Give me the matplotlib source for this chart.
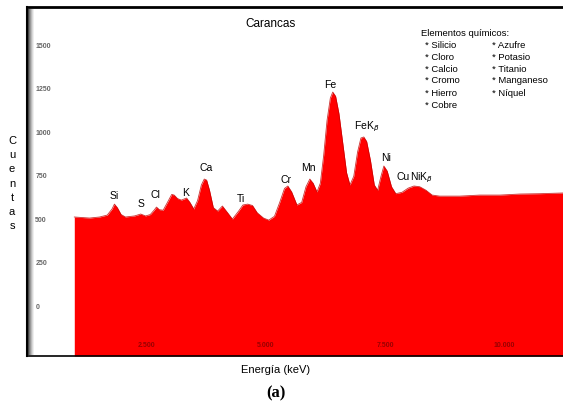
import matplotlib
matplotlib.use("Agg")
import matplotlib.pyplot as plt
from matplotlib.patches import Rectangle

plt.rcParams['font.family'] = ['Liberation Sans', 'DejaVu Sans']

# EDX spectrum of the Carancas sample (energy in keV, counts)
energy = [0.99, 1.31, 1.52, 1.68, 1.78, 1.83, 1.89, 1.97, 2.06, 2.25,
          2.38, 2.48, 2.58, 2.66, 2.71, 2.77, 2.85, 2.94, 3.03, 3.08,
          3.15, 3.23, 3.34, 3.41, 3.49, 3.57, 3.65, 3.71, 3.76, 3.82,
          3.90, 3.99, 4.09, 4.20, 4.30, 4.43, 4.52, 4.62, 4.72, 4.82,
          4.95, 5.06, 5.18, 5.29, 5.39, 5.46, 5.54, 5.65, 5.75, 5.84,
          5.92, 5.99, 6.07, 6.14, 6.21, 6.28, 6.35, 6.40, 6.46, 6.53,
          6.61, 6.69, 6.76, 6.84, 6.92, 6.99, 7.05, 7.11, 7.19, 7.27,
          7.34, 7.41, 7.47, 7.54, 7.63, 7.72, 7.85, 7.98, 8.10, 8.22,
          8.35, 8.48, 8.64, 9.06, 9.48, 9.90, 10.32, 10.74, 11.22]
counts = [506, 500, 506, 517, 552, 580, 560, 520, 506, 512,
          523, 512, 520, 545, 563, 548, 545, 590, 636, 632,
          612, 603, 615, 590, 552, 600, 690, 724, 718, 660,
          560, 540, 569, 530, 494, 540, 575, 580, 572, 530,
          500, 488, 510, 590, 670, 684, 650, 575, 590, 680,
          724, 700, 650, 700, 860, 1060, 1190, 1224, 1200, 1100,
          930, 760, 690, 740, 880, 960, 966, 940, 830, 690,
          660, 740, 799, 770, 680, 640, 648, 672, 684, 680,
          660, 632, 626, 626, 632, 632, 638, 640, 644]

peak_names = ["Si", "S", "Cl", "K", "Ca", "Ti", "Cr", "Mn", "Fe",
              "FeK$_{\\beta}$", "Ni", "Cu", "NiK$_{\\beta}$"]
peak_energy = [1.83, 2.38, 2.69, 3.32, 3.74, 4.47, 5.42, 5.88, 6.34,
               7.11, 7.51, 7.87, 8.27]
peak_label_y = [632, 586, 638, 649, 793, 615, 724, 793, 1270,
                1029, 851, 741, 736]

x_ticks = [2.5, 5.0, 7.5, 10.0]
x_ticklabels = ["2.500", "5.000", "7.500", "10.000"]
y_ticks = [0, 250, 500, 750, 1000, 1250, 1500]
y_ticklabels = ["0", "250", "500", "750", "1000", "1250", "1500"]

elements_col1 = ["Silicio", "Cloro", "Calcio", "Cromo", "Hierro", "Cobre"]
elements_col2 = ["Azufre", "Potasio", "Titanio", "Manganeso", "Níquel"]

W, H = 563, 410
fig = plt.figure(figsize=(W / 100, H / 100), dpi=100)
ax = fig.add_axes([27 / W, 1 - 357 / H, 1 - 27 / W, (357 - 8) / H])

ymin = -293
ax.fill_between(energy, counts, ymin, color='#ff0000', lw=0)
ax.plot(energy, counts, color='#c00000', lw=0.6, alpha=0.8)
ax.set_xlim(0, 11.22)
ax.set_ylim(ymin, 1713)

ax.set_xticks(x_ticks)
ax.set_xticklabels(x_ticklabels)
ax.set_yticks(y_ticks)
ax.set_yticklabels(y_ticklabels)
ax.tick_params(axis='x', length=0, pad=-11, labelsize=5, labelcolor='#990000')
ax.tick_params(axis='y', length=0, pad=-6, labelsize=5, labelcolor='#666666')
for lab in ax.get_yticklabels():
    lab.set_horizontalalignment('left')
    lab.set_fontweight('bold')
for lab in ax.get_xticklabels():
    lab.set_fontweight('bold')

ax.spines['right'].set_visible(False)
ax.spines['top'].set_linewidth(2.0)
ax.spines['left'].set_linewidth(1.5)
ax.spines['bottom'].set_linewidth(1.2)

# soft shadow along the left border
shades = ['#444444', '#777777', '#999999', '#bbbbbb', '#d8d8d8', '#eeeeee']
for i, c in enumerate(shades):
    fig.add_artist(Rectangle(((28 + i) / W, 1 - 356 / H), 1 / W, 346 / H,
                             transform=fig.transFigure, color=c, lw=0))

for name, e, y in zip(peak_names, peak_energy, peak_label_y):
    ax.text(e, y, name, ha='center', va='center', fontsize=7.5)

ax.text(0.455, 0.955, "Carancas", transform=ax.transAxes, ha='center',
        va='center', fontsize=8.5)

# element list in the upper right corner
fig.text(421 / W, 1 - 33 / H, "Elementos químicos:", fontsize=6.8, va='center')
for i, el in enumerate(elements_col1):
    fig.text(425 / W, 1 - (45 + 12 * i) / H, "* " + el, fontsize=6.8, va='center')
for i, el in enumerate(elements_col2):
    fig.text(492 / W, 1 - (45 + 12 * i) / H, "* " + el, fontsize=6.8, va='center')

# vertical stacked y label
for i, ch in enumerate("Cuentas"):
    fig.text(12 / W, 1 - (141 + 14.2 * i) / H, ch, fontsize=8, ha='center',
             va='center')

fig.text(276 / W, 1 - 370 / H, "Energía (keV)", fontsize=8, ha='center',
         va='center')
fig.text(276 / W, 1 - 393 / H, "(a)", fontsize=12, ha='center', va='center',
         family='Liberation Serif', fontweight='bold')

fig.savefig("out.png", dpi=100)
